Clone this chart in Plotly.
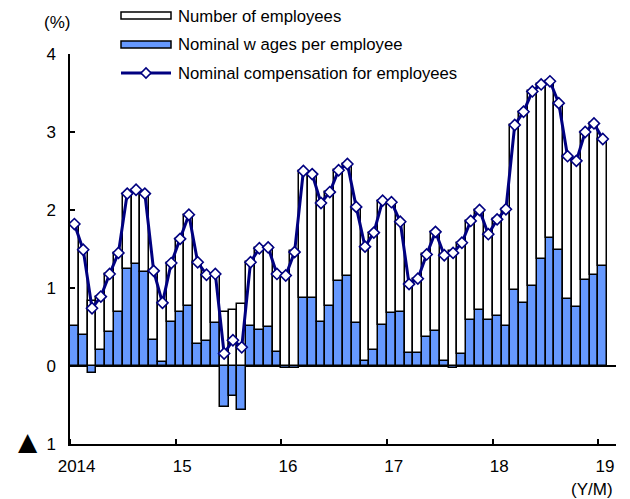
import plotly.graph_objects as go

# Monthly index: 0 = 2014/1 ... 60 = 2019/1
months = list(range(61))

wages = [0.51, 0.40, -0.09, 0.21, 0.44, 0.69, 1.25, 1.31, 1.21, 0.33, 0.05, 0.56,
         0.69, 0.77, 0.28, 0.32, 0.55, -0.53, -0.39, -0.56, 0.51, 0.46, 0.50, 0.18,
         -0.02, -0.02, 0.87, 0.87, 0.56, 0.77, 1.09, 1.15, 0.55, 0.07, 0.21, 0.53,
         0.68, 0.69, 0.17, 0.17, 0.37, 0.45, 0.06, -0.02, 0.16, 0.59, 0.72, 0.59,
         0.64, 0.51, 0.98, 0.81, 1.02, 1.37, 1.64, 1.49, 0.86, 0.76, 1.10, 1.17,
         1.28]

employees = [1.31, 1.09, 0.83, 0.68, 0.74, 0.76, 0.96, 0.95, 1.00, 0.89, 0.76, 0.76,
             0.94, 1.17, 1.05, 0.85, 0.63, 0.69, 0.72, 0.80, 0.82, 1.05, 1.02, 1.00,
             1.18, 1.48, 1.63, 1.59, 1.53, 1.46, 1.42, 1.44, 1.49, 1.46, 1.50, 1.59,
             1.42, 1.16, 0.88, 0.95, 1.06, 1.27, 1.36, 1.47, 1.42, 1.27, 1.28, 1.10,
             1.24, 1.50, 2.11, 2.45, 2.50, 2.24, 2.01, 1.88, 1.83, 1.87, 1.90, 1.94,
             1.63]

compensation = [1.82, 1.49, 0.74, 0.89, 1.18, 1.45, 2.21, 2.26, 2.21, 1.22, 0.81, 1.32,
                1.63, 1.94, 1.33, 1.17, 1.18, 0.16, 0.33, 0.24, 1.33, 1.51, 1.52, 1.18,
                1.16, 1.46, 2.50, 2.46, 2.09, 2.23, 2.51, 2.59, 2.04, 1.53, 1.71, 2.12,
                2.10, 1.85, 1.05, 1.12, 1.43, 1.72, 1.42, 1.45, 1.58, 1.86, 2.00, 1.69,
                1.88, 2.01, 3.09, 3.26, 3.52, 3.61, 3.65, 3.37, 2.69, 2.63, 3.00, 3.11,
                2.91]

year_labels = ["2014", "15", "16", "17", "18", "19"]
year_start_idx = [0, 12, 24, 36, 48, 60]
y_tick_vals = [-1, 0, 1, 2, 3, 4]
y_tick_text = ["1", "0", "1", "2", "3", "4"]   # the -1 label gets a "▲" prefix below

names = ["Number of employees", "Nominal w ages per employee",
         "Nominal compensation for employees"]

BLUE = "#6699FF"
NAVY = "#000080"
FONT = "Liberation Sans, Arial, sans-serif"

# the page has an 8px body margin, so the figure is sized to fit the window
OFF = 8
W, H = 630 - OFF, 499 - OFF
L, R, T, B = 70 - OFF, 14, 54 - OFF, 55
PW, PH = W - L - R, H - T - B


def px(x):
    """page pixel x -> paper coordinate"""
    return (x - OFF - L) / PW


def py(y):
    """page pixel y -> paper coordinate"""
    return (H - B - (y - OFF)) / PH


fig = go.Figure()
fig.add_trace(go.Bar(x=months, y=wages, name=names[1], marker=dict(
    color=BLUE, line=dict(color="black", width=1.5)), showlegend=False))
fig.add_trace(go.Bar(x=months, y=employees, name=names[0], marker=dict(
    color="white", line=dict(color="black", width=1.5)), showlegend=False))
fig.add_trace(go.Scatter(x=months, y=compensation, name=names[2], mode="lines+markers",
                         line=dict(color=NAVY, width=3),
                         marker=dict(symbol="diamond", size=8.5, color="white",
                                     line=dict(color=NAVY, width=1.6)),
                         showlegend=False))

shapes = []
annotations = []
# custom legend
lx0, lx1, tx = 121, 171, 177
shapes.append(dict(type="rect", xref="paper", yref="paper",
                   x0=px(lx0), x1=px(lx1), y0=py(19), y1=py(12),
                   fillcolor="white", line=dict(color="black", width=1.5)))
shapes.append(dict(type="rect", xref="paper", yref="paper",
                   x0=px(lx0), x1=px(lx1), y0=py(48), y1=py(41),
                   fillcolor=BLUE, line=dict(color="black", width=1.5)))
shapes.append(dict(type="line", xref="paper", yref="paper",
                   x0=px(lx0), x1=px(lx1), y0=py(73), y1=py(73),
                   line=dict(color=NAVY, width=3)))
cx, cy, d = 146, 73, 5
path = "M {} {} L {} {} L {} {} L {} {} Z".format(
    px(cx - d), py(cy), px(cx), py(cy - d), px(cx + d), py(cy), px(cx), py(cy + d))
shapes.append(dict(type="path", xref="paper", yref="paper", path=path,
                   fillcolor="white", line=dict(color=NAVY, width=1.6)))

for text, yy in [(names[0], 17), (names[1], 44.5), (names[2], 73)]:
    annotations.append(dict(text=text, xref="paper", yref="paper", x=px(tx), y=py(yy),
                            xanchor="left", yanchor="middle", showarrow=False,
                            borderpad=0,
                            font=dict(size=16.7, color="black", family=FONT)))

annotations.append(dict(text="(%)", xref="paper", yref="paper", x=px(57), y=py(22),
                        xanchor="center", yanchor="middle", showarrow=False,
                        font=dict(size=17, color="black", family=FONT)))
annotations.append(dict(text="(Y/M)", xref="paper", yref="paper", x=px(592), y=py(489),
                        xanchor="center", yanchor="middle", showarrow=False,
                        font=dict(size=17, color="black", family=FONT)))
# negative-value marker in front of the "-1" tick label
annotations.append(dict(text="▲", xref="paper", yref="y", x=px(27.5), y=-1,
                        yshift=3, xanchor="center", yanchor="middle", showarrow=False,
                        borderpad=0,
                        font=dict(size=25, color="black", family="DejaVu Sans")))

fig.update_layout(
    width=W, height=H, autosize=False,
    margin=dict(l=L, r=R, t=T, b=B),
    barmode="relative", bargap=0,
    plot_bgcolor="white", paper_bgcolor="white",
    font=dict(family=FONT, size=17, color="black"),
    shapes=shapes, annotations=annotations,
    showlegend=False,
    xaxis=dict(range=[-0.5, 61.5], tickmode="array",
               tickvals=[i + 0.25 for i in year_start_idx], ticktext=year_labels,
               ticks="", showline=True, linecolor="black", linewidth=1.5,
               showgrid=False, zeroline=False, ticklabelstandoff=6,
               minor=dict(tickmode="array",
                          tickvals=[i - 0.5 for i in year_start_idx],
                          ticks="inside", ticklen=5, tickwidth=1.5, tickcolor="black",
                          showgrid=False)),
    yaxis=dict(range=[-1, 4], tickmode="array", tickvals=y_tick_vals,
               ticktext=y_tick_text, ticks="inside", ticklen=5, tickwidth=1.5,
               tickcolor="black", showline=True, linecolor="black", linewidth=1.5,
               showgrid=False, zeroline=True, zerolinecolor="black", zerolinewidth=2,
               ticklabelstandoff=9),
)

fig.write_html("out.html")
